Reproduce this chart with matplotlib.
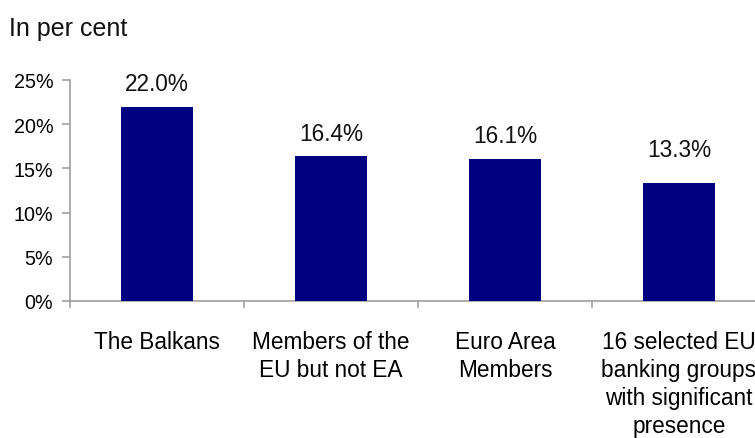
import matplotlib
matplotlib.use("Agg")
import matplotlib.pyplot as plt
from matplotlib.ticker import FuncFormatter

plt.rcParams['font.family'] = ['Liberation Sans', 'DejaVu Sans']

categories = [
    "The Balkans",
    "Members of the\nEU but not EA",
    "Euro Area\nMembers",
    "16 selected EU\nbanking groups\nwith significant\npresence",
]
values = [22.0, 16.4, 16.1, 13.3]
yticks = [0, 5, 10, 15, 20, 25]

# vertical gap (pixels) between each bar top and its value label baseline
label_gap_px = [17, 16, 17, 27]

BAR_COLOR = "#000080"
AXIS_COLOR = "#a0a0a0"

W, H = 755, 439
fig = plt.figure(figsize=(W / 100, H / 100), dpi=100)

x0, x1 = 70, 766
y_top, y_bot = 81, 302
ax = fig.add_axes([x0 / W, 1 - y_bot / H, (x1 - x0) / W, (y_bot - y_top) / H])
ax.set_clip_on(False)

pos = list(range(len(values)))
ax.bar(pos, values, width=0.41, color=BAR_COLOR, zorder=3)

ax.set_xlim(-0.5, len(values) - 0.5)
ax.set_ylim(0, 25)
ax.set_yticks(yticks)
ax.yaxis.set_major_formatter(FuncFormatter(lambda v, _: f"{v:.0f}%"))

# category labels centred in each slot; tick marks at slot boundaries
ax.set_xticks(pos)
ax.set_xticklabels(categories, fontsize=16.3, linespacing=1.27)
ax.tick_params(axis='x', length=0, pad=21)
for b in [p - 0.5 for p in pos] + [len(values) - 0.5]:
    ax.plot([b, b], [0, -0.65], color=AXIS_COLOR, lw=1.2, clip_on=False, zorder=2)

ax.tick_params(axis='y', length=6, width=1.2, color=AXIS_COLOR, labelsize=14.2, pad=6)

for side in ("top", "right"):
    ax.spines[side].set_visible(False)
for side in ("left", "bottom"):
    ax.spines[side].set_color(AXIS_COLOR)
    ax.spines[side].set_linewidth(1.2)

for p, v, g in zip(pos, values, label_gap_px):
    ax.annotate(f"{v:.1f}%", xy=(p, v), xytext=(0, g * 72 / 100),
                textcoords="offset points", ha="center", va="baseline",
                fontsize=16.3, color="#111111")

fig.text(9 / W, 1 - 36 / H, "In per cent", fontsize=18, va="baseline", ha="left",
         color="#111111")

fig.savefig("out.png", dpi=100)
